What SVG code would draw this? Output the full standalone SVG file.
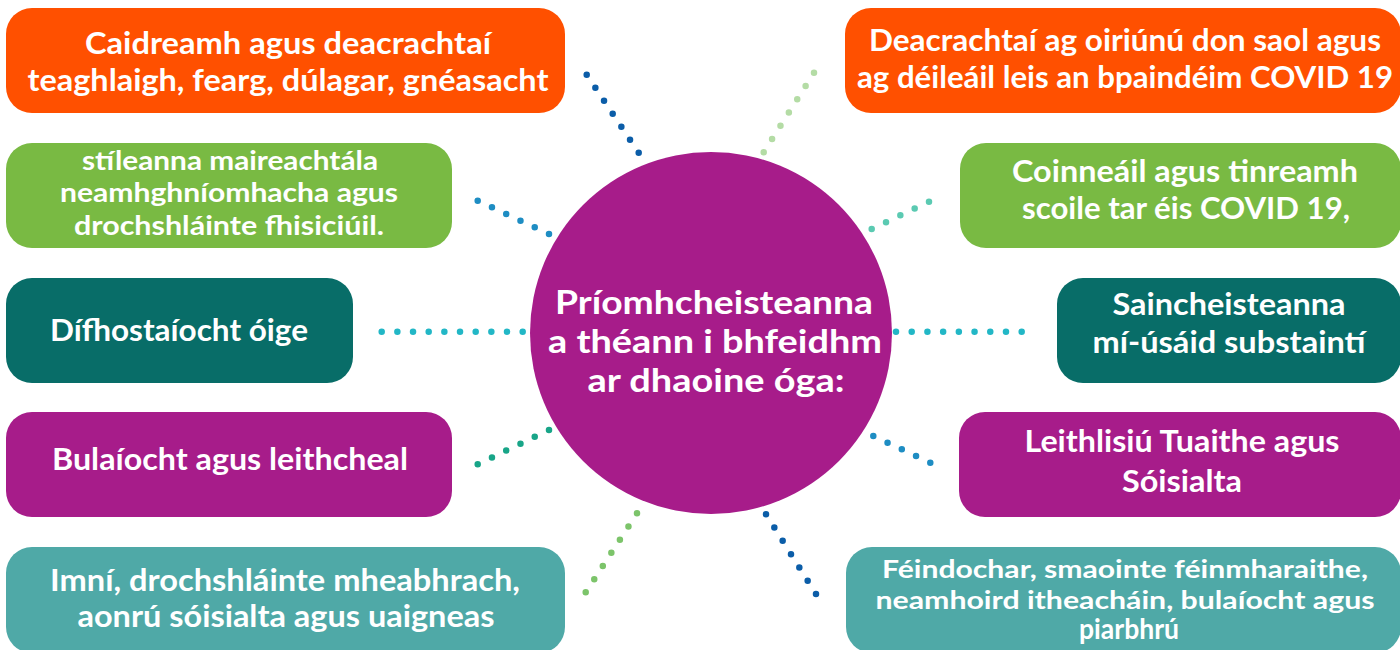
<svg xmlns="http://www.w3.org/2000/svg" width="1400" height="650" viewBox="0 0 1400 650">
<style>
text{font-family:Lato,"Open Sans","Liberation Sans",sans-serif;font-weight:700;fill:#fff;text-anchor:middle}
.t{font-size:30px}
.s{font-size:27px}
.r{font-size:25.5px}
.c{font-size:32px}
.orange{fill:#FF5000}
.green{fill:#79BA43}
.dteal{fill:#086D68}
.purple{fill:#A71C8A}
.teal{fill:#4FA9A7}
.dot{fill:none;stroke-width:6.5;stroke-linecap:round;stroke-dasharray:0 0.9999}
</style>
<rect width="1400" height="650" fill="#fff"/>
<g id="connectors">
<line class="dot" x1="586.7" y1="74.7" x2="638.7" y2="152.7" pathLength="6" stroke="#0B5DA8"/>
<line class="dot" x1="814" y1="72.7" x2="763.7" y2="152.3" pathLength="6" stroke="#B4DCA5"/>
<line class="dot" x1="477.7" y1="200.7" x2="549" y2="234" pathLength="5" stroke="#1E8DC3"/>
<line class="dot" x1="381.7" y1="331.7" x2="522.7" y2="331.7" pathLength="9" stroke="#22B7C6"/>
<line class="dot" x1="477.7" y1="464.3" x2="549" y2="430" pathLength="5" stroke="#18A588"/>
<line class="dot" x1="871.7" y1="229" x2="929" y2="201.7" pathLength="4" stroke="#5BCAB2"/>
<line class="dot" x1="896" y1="331.7" x2="1021.7" y2="331.7" pathLength="8" stroke="#22B7C6"/>
<line class="dot" x1="873.3" y1="436" x2="930.3" y2="462.7" pathLength="4" stroke="#1E8DC3"/>
<line class="dot" x1="637" y1="513.3" x2="585.7" y2="592.3" pathLength="6" stroke="#7CC46A"/>
<line class="dot" x1="766" y1="514.3" x2="816" y2="594" pathLength="6" stroke="#0B5DA8"/>
</g>
<g id="center">
<circle cx="711" cy="333" r="181" class="purple"/>
<text class="c" x="714" y="314" textLength="318" lengthAdjust="spacingAndGlyphs">Príomhcheisteanna</text>
<text class="c" x="715" y="353" textLength="334" lengthAdjust="spacingAndGlyphs">a théann i bhfeidhm</text>
<text class="c" x="716" y="392" textLength="257" lengthAdjust="spacingAndGlyphs">ar dhaoine óga:</text>
</g>
<g id="n1">
<rect x="6" y="8" width="559" height="105" rx="26" class="orange"/>
<text class="t" x="288" y="54" textLength="406" lengthAdjust="spacingAndGlyphs">Caidreamh agus deacrachtaí</text>
<text class="t" x="288" y="91" textLength="521" lengthAdjust="spacingAndGlyphs">teaghlaigh, fearg, dúlagar, gnéasacht</text>
</g>
<g id="n2">
<rect x="845" y="8" width="556" height="105" rx="26" class="orange"/>
<text class="t" x="1125" y="51" textLength="512" lengthAdjust="spacingAndGlyphs">Deacrachtaí ag oiriúnú don saol agus</text>
<text class="t" x="1125" y="88" textLength="536" lengthAdjust="spacingAndGlyphs">ag déileáil leis an bpaindéim COVID 19</text>
</g>
<g id="n3">
<rect x="6" y="143" width="446" height="105" rx="26" class="green"/>
<text class="s" x="230" y="170" textLength="296" lengthAdjust="spacingAndGlyphs">stíleanna maireachtála</text>
<text class="s" x="229" y="202" textLength="338" lengthAdjust="spacingAndGlyphs">neamhghníomhacha agus</text>
<text class="s" x="229" y="235" textLength="310" lengthAdjust="spacingAndGlyphs">drochshláinte fhisiciúil.</text>
</g>
<g id="n4">
<rect x="960" y="143" width="441" height="105" rx="26" class="green"/>
<text class="t" x="1185" y="182" textLength="346" lengthAdjust="spacingAndGlyphs">Coinneáil agus tinreamh</text>
<text class="t" x="1186" y="219" textLength="328" lengthAdjust="spacingAndGlyphs">scoile tar éis COVID 19,</text>
</g>
<g id="n5">
<rect x="6" y="278" width="347" height="105" rx="26" class="dteal"/>
<text class="t" x="179" y="341" textLength="258" lengthAdjust="spacingAndGlyphs">Dífhostaíocht óige</text>
</g>
<g id="n6">
<rect x="1057" y="278" width="344" height="105" rx="26" class="dteal"/>
<text class="t" x="1229" y="315" textLength="233" lengthAdjust="spacingAndGlyphs">Saincheisteanna</text>
<text class="t" x="1229" y="353" textLength="273" lengthAdjust="spacingAndGlyphs">mí-úsáid substaintí</text>
</g>
<g id="n7">
<rect x="6" y="412" width="446" height="105" rx="26" class="purple"/>
<text class="t" x="230" y="470" textLength="356" lengthAdjust="spacingAndGlyphs">Bulaíocht agus leithcheal</text>
</g>
<g id="n8">
<rect x="959" y="412" width="442" height="105" rx="26" class="purple"/>
<text class="t" x="1182" y="452" textLength="315" lengthAdjust="spacingAndGlyphs">Leithlisiú Tuaithe agus</text>
<text class="t" x="1182" y="492" textLength="120" lengthAdjust="spacingAndGlyphs">Sóisialta</text>
</g>
<g id="n9">
<rect x="6" y="547" width="559" height="106" rx="26" class="teal"/>
<text class="t" x="285" y="591" textLength="470" lengthAdjust="spacingAndGlyphs">Imní, drochshláinte mheabhrach,</text>
<text class="t" x="286" y="627" textLength="417" lengthAdjust="spacingAndGlyphs">aonrú sóisialta agus uaigneas</text>
</g>
<g id="n10">
<rect x="846" y="547" width="555" height="106" rx="26" class="teal"/>
<text class="r" x="1125" y="578" textLength="486" lengthAdjust="spacingAndGlyphs">Féindochar, smaointe féinmharaithe,</text>
<text class="r" x="1125" y="609" textLength="499" lengthAdjust="spacingAndGlyphs">neamhoird itheacháin, bulaíocht agus</text>
<text class="r" x="1129" y="639" style="font-size:28px" textLength="100" lengthAdjust="spacingAndGlyphs">piarbhrú</text>
</g>
</svg>
